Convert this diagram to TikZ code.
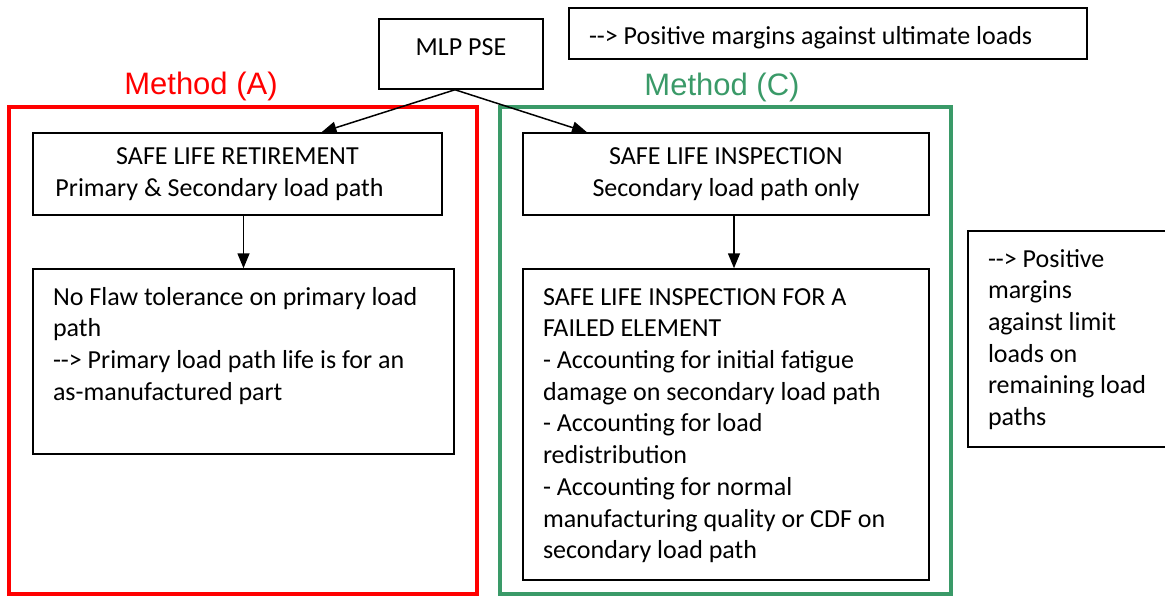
\documentclass[tikz,border=0pt]{standalone}
\usepackage{fontspec}
\setmainfont{Carlito}
\newfontfamily\arialfont{Liberation Sans}
\usetikzlibrary{arrows.meta}

\definecolor{methodred}{RGB}{255,0,0}
\definecolor{methodgreen}{RGB}{58,154,104}

\newcommand{\toptext}[3]{\parbox[c][#2][t]{#1}{\raggedright\strut #3}}

\tikzset{
	txtbox/.style={draw=black, line width=1.5pt, inner sep=0pt, font=\fontsize{26}{31.7}\selectfont},
	methodframe/.style={draw=#1, line width=3.5pt, inner sep=0pt},
	methodlabel/.style={font=\arialfont\fontsize{31}{37}\selectfont},
	flow/.style={-{Triangle[length=15pt,width=12pt]}, line width=1.5pt},
}

\begin{document}
\begin{tikzpicture}[x=1pt, y=-1pt]
	
	\clip (0,0) rectangle (1165,595);
	
	% method frames
	\node[methodframe=methodred, minimum width=468pt, minimum height=487pt] (frameA) at (243, 350.5) {};
	\node[methodframe=methodgreen, minimum width=451pt, minimum height=487pt] (frameC) at (725.5, 350.5) {};
	\node[methodlabel, text=methodred] (labelA) at (201, 86) {Method (A)};
	\node[methodlabel, text=methodgreen] (labelC) at (722, 87) {Method (C)};
	
	% boxes
	\node[txtbox, inner xsep=20pt, inner ysep=14pt] (mlp) at (461, 54) {\toptext{124pt}{42pt}{\centering MLP PSE}};
	\node[txtbox, inner xsep=20pt, inner ysep=14pt] (ultimate) at (828, 33.5) {\toptext{478pt}{23pt}{-{}-> Positive margins against ultimate loads}};
	\node[txtbox, inner xsep=20pt, minimum height=82pt] (ret) at (237.5, 174) {\parbox{369pt}{\centering SAFE LIFE RETIREMENT\\ Primary \& Secondary load path\hspace*{36pt}}};
	\node[txtbox, inner xsep=20pt, minimum height=82pt] (insp) at (726, 174) {\parbox{366pt}{\centering SAFE LIFE INSPECTION\\ Secondary load path only}};
	\node[txtbox, inner xsep=20pt, inner ysep=14pt] (noflaw) at (243.5, 361.5) {\toptext{381pt}{157pt}{No Flaw tolerance on primary load\\ path\\ -{}-> Primary load path life is for an\\ as-manufactured part}};
	\node[txtbox, inner xsep=20pt, inner ysep=14pt] (fail) at (726, 424.5) {\toptext{366pt}{283pt}{SAFE LIFE INSPECTION FOR A\\ FAILED ELEMENT\\ - Accounting for initial fatigue\\ damage on secondary load path\\ - Accounting for load\\ redistribution\\ - Accounting for normal\\ manufacturing quality or CDF on\\ secondary load path}};
	\node[txtbox, inner xsep=20pt, inner ysep=14pt] (limit) at (1078, 339) {\toptext{180pt}{188pt}{-{}-> Positive\\ margins\\ against limit\\ loads on\\ remaining load\\ paths}};
	
	% arrows
	\draw[flow] ([xshift=-6pt]mlp.south) -- ([xshift=84pt]ret.north);
	\draw[flow] ([xshift=-6pt]mlp.south) -- ([xshift=-139pt]insp.north);
	\draw[flow] (ret.south -| noflaw.north) -- (noflaw.north);
	\draw[flow] ([xshift=8pt]insp.south) -- ([xshift=8pt]fail.north);
	
\end{tikzpicture}
\end{document}
